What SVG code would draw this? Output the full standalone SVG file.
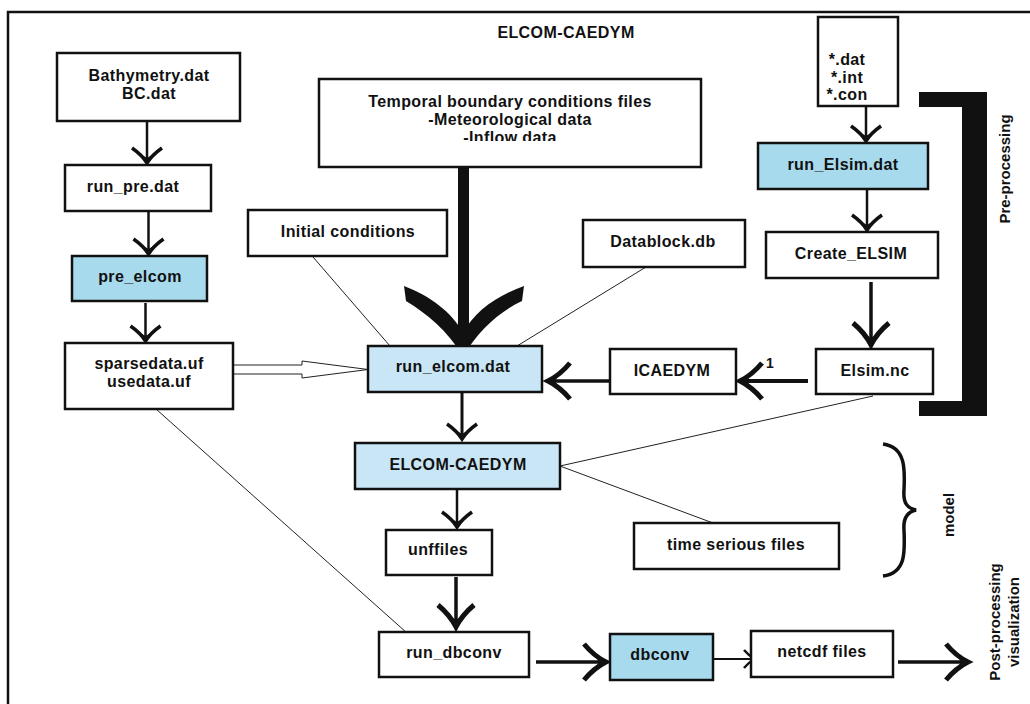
<svg xmlns="http://www.w3.org/2000/svg" width="1030" height="704" viewBox="0 0 1030 704">
<style>
.box{stroke:#111;stroke-width:2.5;fill:#fff}
.b1{fill:#a8daed}
.b2{fill:#c8e6f6}
.t{font-family:"Liberation Sans",Arial,sans-serif;font-weight:bold;font-size:16px;letter-spacing:0.4px;text-anchor:middle;fill:#111}
.r{font-family:"Liberation Sans",Arial,sans-serif;font-weight:bold;font-size:15px;text-anchor:middle;fill:#111}
.ln{stroke:#111;fill:none}
.thin{stroke:#222;stroke-width:1;fill:none}
</style>
<defs>
<marker id="hs" markerUnits="userSpaceOnUse" orient="auto" markerWidth="40" markerHeight="40" viewBox="-20 -20 40 40" refX="0" refY="0" overflow="visible">
<path d="M-15,-15 Q-8,-5 0,0 Q-8,5 -15,15" fill="none" stroke="#111" stroke-width="3.5"/>
<path d="M1,0 L-8,-5 L-5,0 L-8,5 Z" fill="#111"/>
</marker>
<marker id="hm" markerUnits="userSpaceOnUse" orient="auto" markerWidth="60" markerHeight="60" viewBox="-30 -30 60 60" refX="0" refY="0" overflow="visible">
<path d="M-22,-18 Q-12,-6 0,0 Q-12,6 -22,18" fill="none" stroke="#111" stroke-width="5"/>
<path d="M1.5,0 L-11,-7 L-7,0 L-11,7 Z" fill="#111"/>
</marker>
<marker id="ht" markerUnits="userSpaceOnUse" orient="auto" markerWidth="30" markerHeight="30" viewBox="-15 -15 30 30" refX="0" refY="0" overflow="visible">
<path d="M-11,-9 Q-6,-3 0,0 Q-6,3 -11,9" fill="none" stroke="#111" stroke-width="2.5"/>
</marker>
<clipPath id="clipT"><rect x="319" y="79" width="382" height="62"/></clipPath>
</defs>
<rect x="0" y="0" width="1030" height="704" fill="#fff"/>
<g id="frame">
<path d="M8,704 V12 H1030" fill="none" stroke="#111" stroke-width="2.5"/>
</g>
<text class="t" x="566" y="38">ELCOM-CAEDYM</text>

<g id="connectors">
<line class="ln" stroke-width="2.5" x1="147" y1="122" x2="147" y2="163" marker-end="url(#hs)"/>
<line class="ln" stroke-width="2.5" x1="148.5" y1="211" x2="148.5" y2="254" marker-end="url(#hs)"/>
<line class="ln" stroke-width="2.5" x1="145.5" y1="303" x2="145.5" y2="341" marker-end="url(#hs)"/>
<line class="ln" stroke-width="2.5" x1="866" y1="106" x2="866" y2="141" marker-end="url(#hs)"/>
<line class="ln" stroke-width="2.5" x1="867" y1="189" x2="867" y2="230" marker-end="url(#hs)"/>
<line class="ln" stroke-width="3.5" x1="871" y1="282" x2="871" y2="345" marker-end="url(#hm)"/>
<line class="ln" stroke-width="4" x1="808" y1="381" x2="740" y2="381" marker-end="url(#hm)"/>
<line class="ln" stroke-width="3.5" x1="610" y1="381" x2="548" y2="381" marker-end="url(#hm)"/>
<line class="ln" stroke-width="3" x1="462" y1="392" x2="462" y2="439" marker-end="url(#hs)"/>
<line class="ln" stroke-width="2.5" x1="457" y1="489" x2="457" y2="527" marker-end="url(#hs)"/>
<line class="ln" stroke-width="3.5" x1="456" y1="577" x2="456" y2="627" marker-end="url(#hm)"/>
<line class="ln" stroke-width="3.5" x1="536" y1="662" x2="606" y2="662" marker-end="url(#hm)"/>
<line class="ln" stroke-width="2" x1="713" y1="659" x2="755" y2="659" marker-end="url(#ht)"/>
<line class="ln" stroke-width="3.5" x1="898" y1="662" x2="968" y2="662" marker-end="url(#hm)"/>
<text x="770" y="368" font-family="Liberation Sans, Arial, sans-serif" font-weight="bold" font-size="14" text-anchor="middle" fill="#111">1</text>
<rect x="458" y="167" width="11" height="172" fill="#111"/>
<path d="M404,286 C430,296 452,312 463,333 C474,312 496,296 524,286 L522,301 C500,311 478,331 464,355 L462,355 C448,331 426,313 406,301 Z" fill="#111"/>
<polygon points="233,365 302,365 302,361 368,369.5 302,378 302,374 233,374" fill="#fff" stroke="#222" stroke-width="1"/>
<line class="thin" x1="313" y1="257" x2="390" y2="346"/>
<line class="thin" x1="646" y1="267" x2="517" y2="346"/>
<line class="thin" x1="560" y1="466" x2="873" y2="396"/>
<line class="thin" x1="560" y1="466" x2="713" y2="523"/>
<line class="thin" x1="156" y1="409" x2="407" y2="633"/>
</g>

<g id="n-bathymetry"><rect class="box" x="57" y="53" width="183" height="68"/>
<text class="t" x="149" y="81">Bathymetry.dat</text><text class="t" x="149" y="99">BC.dat</text></g>
<g id="n-run-pre"><rect class="box" x="65" y="165" width="146" height="46"/>
<text class="t" x="133" y="192">run_pre.dat</text></g>
<g id="n-pre-elcom"><rect class="box b1" x="72" y="256" width="135" height="45"/>
<text class="t" x="140" y="282">pre_elcom</text></g>
<g id="n-sparsedata"><rect class="box" x="65" y="343" width="168" height="66"/>
<text class="t" x="149" y="369">sparsedata.uf</text><text class="t" x="149" y="387">usedata.uf</text></g>
<g id="n-temporal"><rect class="box" x="319" y="79" width="382" height="88"/>
<text class="t" x="510" y="107">Temporal boundary conditions files</text>
<text class="t" x="510" y="125">-Meteorological data</text>
<text class="t" x="510" y="142.5" clip-path="url(#clipT)">-Inflow data</text></g>
<g id="n-initial"><rect class="box" x="248" y="210" width="199" height="46"/>
<text class="t" x="348" y="237">Initial conditions</text></g>
<g id="n-datablock"><rect class="box" x="583" y="220" width="162" height="47"/>
<text class="t" x="663" y="247">Datablock.db</text></g>
<g id="n-inputs"><rect class="box" x="818" y="17" width="80" height="89"/>
<text class="t" x="847" y="65">*.dat</text><text class="t" x="847" y="83">*.int</text><text class="t" x="847" y="100">*.con</text></g>
<g id="n-run-elsim"><rect class="box b1" x="758" y="143" width="170" height="46"/>
<text class="t" x="843" y="170">run_Elsim.dat</text></g>
<g id="n-create-elsim"><rect class="box" x="766" y="232" width="172" height="46"/>
<text class="t" x="851" y="259">Create_ELSIM</text></g>
<g id="n-elsim-nc"><rect class="box" x="816" y="349" width="117" height="45"/>
<text class="t" x="875" y="376">Elsim.nc</text></g>
<g id="n-icaedym"><rect class="box" x="610" y="349" width="126" height="45"/>
<text class="t" x="672" y="376">ICAEDYM</text></g>
<g id="n-run-elcom"><rect class="box b2" x="368" y="346" width="174" height="46"/>
<text class="t" x="453" y="372">run_elcom.dat</text></g>
<g id="n-elcom-caedym"><rect class="box b2" x="355" y="443" width="205" height="46"/>
<text class="t" x="458" y="470">ELCOM-CAEDYM</text></g>
<g id="n-timeseries"><rect class="box" x="634" y="523" width="205" height="46"/>
<text class="t" x="736" y="550">time serious files</text></g>
<g id="n-unffiles"><rect class="box" x="386" y="530" width="106" height="45"/>
<text class="t" x="438" y="555">unffiles</text></g>
<g id="n-run-dbconv"><rect class="box" x="379" y="632" width="150" height="45"/>
<text class="t" x="454" y="658">run_dbconv</text></g>
<g id="n-dbconv"><rect class="box b1" x="610" y="634" width="103" height="46"/>
<text class="t" x="660" y="660">dbconv</text></g>
<g id="n-netcdf"><rect class="box" x="751" y="631" width="142" height="46"/>
<text class="t" x="822" y="657">netcdf files</text></g>

<g id="pre-processing">
<path d="M919,92 H987 V416 H919 V401 H962 V107 H919 Z" fill="#111"/>
<text class="r" transform="translate(1010,169) rotate(-90)">Pre-processing</text>
</g>
<g id="model">
<path d="M883,444 C906,447 905,470 904,490 C903,503 907,508 916,510 C907,512 903,518 904,530 C905,552 906,573 883,576" fill="none" stroke="#111" stroke-width="3.5"/>
<text class="r" transform="translate(954,515) rotate(-90)">model</text>
</g>
<g id="post-processing">
<text class="r" transform="translate(1000,622) rotate(-90)">Post-processing</text>
<text class="r" transform="translate(1019,622) rotate(-90)">visualization</text>
</g>
</svg>
